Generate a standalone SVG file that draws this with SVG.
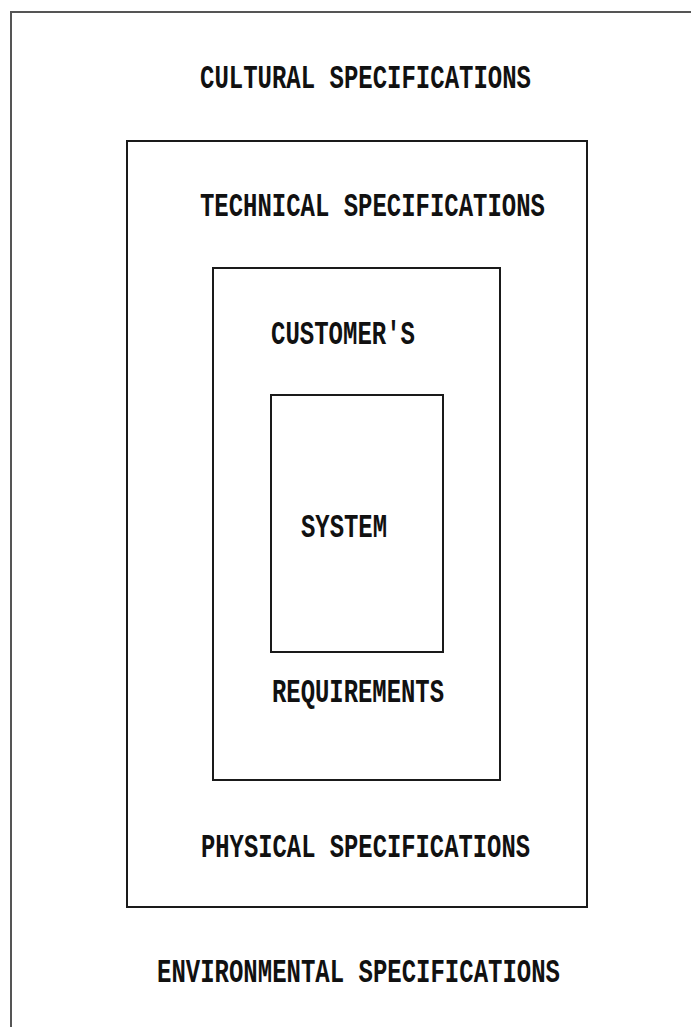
<svg xmlns="http://www.w3.org/2000/svg" width="691" height="1027" viewBox="0 0 691 1027">
<style>
.box{fill:none;stroke:#1a1a1a;stroke-width:2}
.frame{fill:none;stroke:#555;stroke-width:2}
.t{font-family:"Liberation Mono","DejaVu Sans Mono",monospace;font-weight:bold;font-size:24px;fill:#111}
</style>
<rect width="691" height="1027" fill="#fff"/>
<g id="frame"><polyline class="frame" points="11,1027 11,12 691,12"/></g>
<g id="cultural">
<text class="t" transform="translate(200,88) scale(1,1.4)" textLength="331" lengthAdjust="spacingAndGlyphs">CULTURAL SPECIFICATIONS</text>
</g>
<g id="technical">
<rect class="box" x="127" y="141" width="460" height="766"/>
<text class="t" transform="translate(200,216) scale(1,1.4)" textLength="345" lengthAdjust="spacingAndGlyphs">TECHNICAL SPECIFICATIONS</text>
<text class="t" transform="translate(201,857) scale(1,1.4)" textLength="329" lengthAdjust="spacingAndGlyphs">PHYSICAL SPECIFICATIONS</text>
</g>
<g id="customers">
<rect class="box" x="213" y="268" width="287" height="512"/>
<text class="t" transform="translate(271,344) scale(1,1.4)" textLength="144" lengthAdjust="spacingAndGlyphs">CUSTOMER'S</text>
<text class="t" transform="translate(272,702) scale(1,1.4)" textLength="172" lengthAdjust="spacingAndGlyphs">REQUIREMENTS</text>
</g>
<g id="system">
<rect class="box" x="271" y="395" width="172" height="257"/>
<text class="t" transform="translate(301,537) scale(1,1.4)" textLength="86" lengthAdjust="spacingAndGlyphs">SYSTEM</text>
</g>
<g id="environmental">
<text class="t" transform="translate(157,982) scale(1,1.4)" textLength="403" lengthAdjust="spacingAndGlyphs">ENVIRONMENTAL SPECIFICATIONS</text>
</g>
<g id="connectors"/>
</svg>
